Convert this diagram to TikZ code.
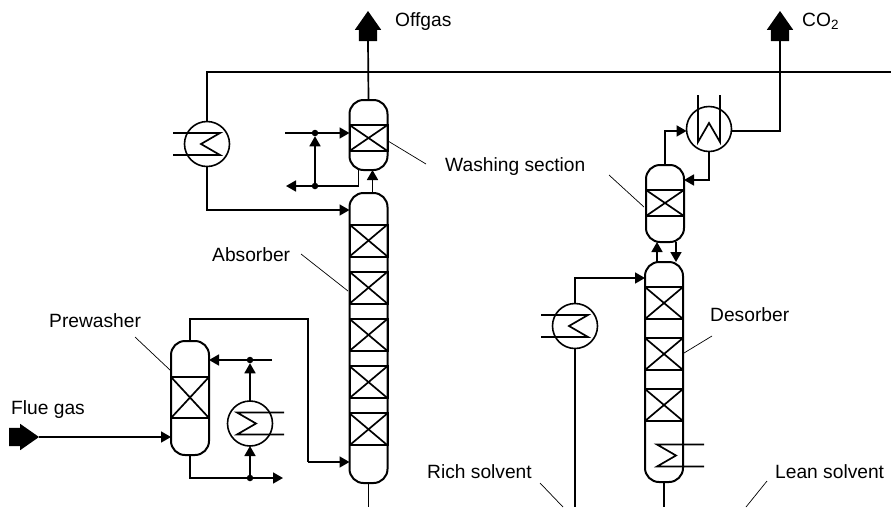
\documentclass[tikz,border=0pt]{standalone}
\usepackage{fontspec}
\setmainfont{Liberation Sans}
\usetikzlibrary{positioning, arrows.meta, shapes.arrows}
\tikzset{
x=1pt, y=-1pt, % reference pixels, measured from the top left
>={Triangle[length=10pt, width=11pt]}, % solid arrow heads
flow/.style={line width=1.7pt},
leader/.style={line width=0.7pt},
vessel/.style={draw, line width=2pt, rounded corners=14pt, minimum width=38pt, inner sep=0pt, outer sep=0pt, anchor=north},
bed/.style={draw, line width=2pt, minimum width=38pt, inner sep=0pt, outer sep=0pt, path picture={
    \draw[flow] (path picture bounding box.north west) -- (path picture bounding box.south east);
    \draw[flow] (path picture bounding box.south west) -- (path picture bounding box.north east);}},
cooler/.style={draw, circle, line width=1.6pt, minimum size=45pt, inner sep=0pt, outer sep=0pt},
junction/.style={circle, fill=black, minimum size=6.5pt, inner sep=0pt, outer sep=0pt},
stream/.style={single arrow, fill=black, minimum height=30pt, minimum width=26pt, single arrow head extend=4pt, single arrow tip angle=70, inner xsep=0pt, inner ysep=9pt, outer sep=0pt},
tag/.style={anchor=base west, inner sep=0pt, font=\fontsize{19.2}{22}\selectfont},
coil/.pic={\draw[flow] (-34,-11) -- (13,-11) -- (-6,0) -- (13,11) -- (-34,11);},
}
\begin{document}
\begin{tikzpicture}
\useasboundingbox (0,0) rectangle (891,507);
% columns
\node[vessel, minimum height=70pt] (wash) at (368.5,100) {};
\node[vessel, minimum height=290pt] (absorber) at (368.5,193) {};
\node[vessel, minimum height=114pt] (pre) at (190,341) {};
\node[vessel, minimum height=77pt] (dewash) at (665,165) {};
\node[vessel, minimum height=220pt] (desorber) at (664,262) {};
% packing
\node[bed, minimum height=26pt] (washbed) at (368.5,138) {};
\node[bed, minimum height=32pt] (abs1) at (368.5,240.5) {};
\node[bed, minimum height=32pt, below=15.2pt of abs1] (abs2) {};
\node[bed, minimum height=32pt, below=15.2pt of abs2] (abs3) {};
\node[bed, minimum height=32pt, below=15.2pt of abs3] (abs4) {};
\node[bed, minimum height=32pt, below=15.2pt of abs4] (abs5) {};
\node[bed, minimum height=41pt] (prebed) at (190,397.5) {};
\node[bed, minimum height=26pt] (dewashbed) at (665,203) {};
\node[bed, minimum height=32pt] (des1) at (664,303) {};
\node[bed, minimum height=32pt, below=19pt of des1] (des2) {};
\node[bed, minimum height=32pt, below=19pt of des2] (des3) {};
% heat exchangers
\node[cooler] (hxa) at (207,144) {};
\node[cooler] (hxb) at (250,423.5) {};
\node[cooler] (hxc) at (575,326) {};
\node[cooler] (hxd) at (709,129) {};
\pic at (hxa) {coil};
\pic[rotate=180] at (hxb) {coil};
\pic at (hxc) {coil};
\pic[rotate=-90] at (hxd) {coil};
\pic[rotate=180] at (670,455.5) {coil};
% junctions
\node[junction] (washtop) at (315,133) {};
\node[junction] (washlow) at (315,186) {};
\node[junction] (pretop) at (250,360) {};
\node[junction] (prelow) at (250,478) {};
% big stream arrows
\node[stream, rotate=90, anchor=tail] (offgasout) at (368,41) {};
\node[stream, rotate=90, anchor=tail] (co2out) at (780,41) {};
\node[stream, anchor=tip] (fluein) at (39,437) {};
% line ends
\coordinate (lineright) at (891,72);
\coordinate (washfeed) at (285,133);
\coordinate (washdrain) at (286,186);
\coordinate (prefeed) at (272,360);
\coordinate (predrain) at (283,478);
\coordinate (prejog) at (308,319);
\coordinate (absfeed) at (308,462);
\coordinate (bottom) at (0,507);
\coordinate (rejoin) at (575,278);
\coordinate (cooledfeed) at (207,210);
\coordinate (dereturn) at (709,180);
% streams
\draw[flow] (wash.north) -- (offgasout.tail);
\draw[flow] (hxa) |- (lineright);
\draw[flow] (co2out.tail) |- (hxd.-5);
\draw[flow, ->] (hxa) |- (cooledfeed -| absorber.west);
\draw[flow, ->] (washfeed) -- (washtop) -- (washfeed -| wash.west);
\draw[flow, ->] (washlow) -- (washtop);
\draw[flow, ->] ([xshift=-10pt]wash.south) |- (washdrain);
\draw[flow, ->] ([xshift=4pt]absorber.north) -- ([xshift=4pt]wash.south);
\draw[flow] (absorber.south) -- (absorber.south |- bottom);
\draw[flow, ->] (fluein.tip) -- (fluein.tip -| pre.west);
\draw[flow] (pre.north) |- (prejog) -- (absfeed);
\draw[flow, ->] (absfeed) -- (absfeed -| absorber.west);
\draw[flow, ->] (pre.south) |- (predrain);
\draw[flow, ->] (prelow) -- (hxb);
\draw[flow, ->] (hxb) -- (pretop);
\draw[flow, ->] (prefeed) -- (pretop) -- (prefeed -| pre.east);
\draw[flow] (hxc) -- (hxc |- bottom);
\draw[flow, ->] (hxc) |- (rejoin -| desorber.west);
\draw[flow] (desorber.south) -- (desorber.south |- bottom);
\draw[flow, ->] ([xshift=-7pt]desorber.north) -- ([xshift=-8pt]dewash.south);
\draw[flow, ->] ([xshift=11pt]dewash.south) -- ([xshift=12pt]desorber.north);
\draw[flow, ->] (dewash.north) |- (hxd.185);
\draw[flow, ->] (hxd) |- (dereturn -| dewash.east);
% leaders
\coordinate (washleada) at (426,164);
\coordinate (washleadb) at (388,141);
\coordinate (dewashleada) at (609,175);
\coordinate (dewashleadb) at (644,207);
\coordinate (absleada) at (301,254);
\coordinate (absleadb) at (348,291);
\coordinate (preleada) at (135,337);
\coordinate (preleadb) at (170,370);
\coordinate (desleada) at (712,336);
\coordinate (desleadb) at (684,353);
\coordinate (richleada) at (540,483);
\coordinate (richleadb) at (563,507);
\coordinate (leanleada) at (767,481);
\coordinate (leanleadb) at (746,507);
\draw[leader] (washleada) -- (washleadb);
\draw[leader] (dewashleada) -- (dewashleadb);
\draw[leader] (absleada) -- (absleadb);
\draw[leader] (preleada) -- (preleadb);
\draw[leader] (desleada) -- (desleadb);
\draw[leader] (richleada) -- (richleadb);
\draw[leader] (leanleada) -- (leanleadb);
% labels
\node[tag] (offgastext) at (395,26) {Offgas};
\node[tag] (co2text) at (802,26) {CO\textsubscript{2}};
\node[tag] (washtext) at (445,171) {Washing section};
\node[tag] (abstext) at (212,261) {Absorber};
\node[tag] (pretext) at (49,327) {Prewasher};
\node[tag] (fluetext) at (11,414) {Flue gas};
\node[tag] (richtext) at (427,478) {Rich solvent};
\node[tag] (leantext) at (775,478) {Lean solvent};
\node[tag] (destext) at (710,321) {Desorber};
\end{tikzpicture}
\end{document}
